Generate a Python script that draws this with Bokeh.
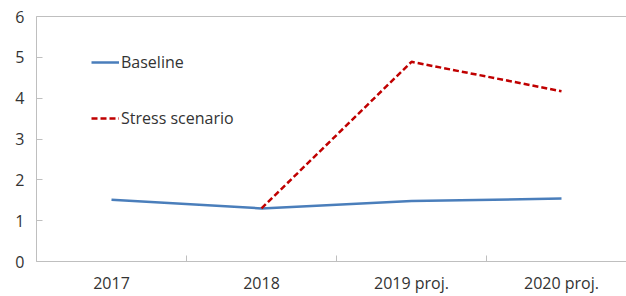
from bokeh.plotting import figure
from bokeh.models import FixedTicker, LinearAxis, Range1d, Legend, LegendItem
from bokeh.embed import file_html
from bokeh.resources import INLINE

categories = ["2017", "2018", "2019 proj.", "2020 proj."]
baseline = [1.51, 1.30, 1.48, 1.54]
stress_cats = ["2018", "2019 proj.", "2020 proj."]
stress = [1.30, 4.89, 4.17]
y_ticks = [0, 1, 2, 3, 4, 5, 6]

xpos = {c: i for i, c in enumerate(categories)}
FONT = "Open Sans"
TXT = "#333333"
AX = "#bfbfbf"

p = figure(width=626, height=296, output_backend="svg", toolbar_location=None,
           x_range=Range1d(-0.5, -0.5 + 590 / 150), y_range=Range1d(0, 6),
           min_border_left=36, min_border_right=0, min_border_top=16,
           min_border_bottom=32, x_axis_location=None, y_axis_location=None)
p.outline_line_color = None
p.grid.visible = False
p.background_fill_color = "white"

yax = LinearAxis(ticker=FixedTicker(ticks=y_ticks, minor_ticks=[]))
yax.axis_line_color = AX
yax.major_tick_line_color = AX
yax.major_tick_in = 6
yax.major_tick_out = 0
yax.major_label_standoff = 12
yax.major_label_text_font = FONT
yax.major_label_text_font_size = "16px"
yax.major_label_text_color = TXT
p.add_layout(yax, "left")

xax = LinearAxis(ticker=FixedTicker(ticks=list(range(len(categories))),
                                    minor_ticks=[i + 0.5 for i in range(-1, len(categories))]))
xax.major_label_overrides = {i: c for i, c in enumerate(categories)}
xax.axis_line_color = AX
xax.major_tick_line_color = None
xax.major_tick_in = 0
xax.major_tick_out = 0
xax.minor_tick_line_color = AX
xax.minor_tick_in = 6
xax.minor_tick_out = 0
xax.major_label_standoff = 10
xax.major_label_text_font = FONT
xax.major_label_text_font_size = "16px"
xax.major_label_text_color = TXT
p.add_layout(xax, "below")

top = LinearAxis(ticker=FixedTicker(ticks=[]), major_label_text_font_size="0px")
top.axis_line_color = AX
top.major_tick_line_color = None
top.major_tick_in = 0
top.major_tick_out = 0
top.minor_tick_line_color = None
top.major_label_standoff = 0
p.add_layout(top, "above")

r1 = p.line([xpos[c] for c in categories], baseline, line_color="#4a7ebb", line_width=2.5)
r2 = p.line([xpos[c] for c in stress_cats], stress, line_color="#c00000", line_width=2.5,
            line_dash="6 3")

legend = Legend(items=[LegendItem(label="Baseline", renderers=[r1]),
                       LegendItem(label="Stress scenario", renderers=[r2])],
                location=(55, 132), orientation="vertical")
legend.border_line_color = None
legend.background_fill_alpha = 0
legend.padding = 0
legend.margin = 0
legend.spacing = 34
legend.glyph_width = 28
legend.glyph_height = 20
legend.label_height = 20
legend.label_standoff = 2
legend.label_text_font = FONT
legend.label_text_font_size = "16px"
legend.label_text_color = TXT
p.add_layout(legend, "center")

open("out.html", "w").write(file_html(p, INLINE))
